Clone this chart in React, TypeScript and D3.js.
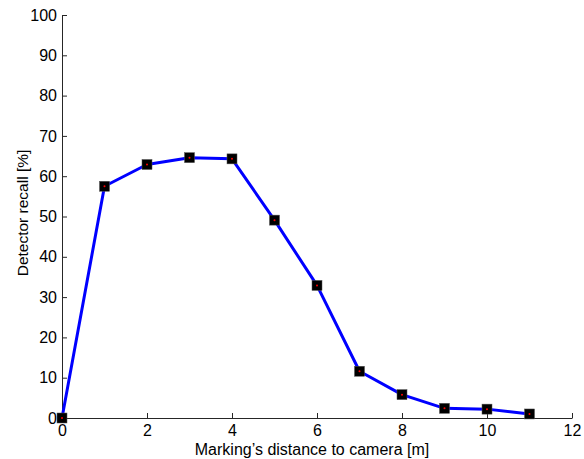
import * as d3 from 'd3';
import { useEffect, useRef } from 'react';

const distances = [0, 1, 2, 3, 4, 5, 6, 7, 8, 9, 10, 11];
const recall = [0, 57.5, 62.9, 64.6, 64.3, 49.1, 32.9, 11.6, 5.8, 2.4, 2.2, 1.0];
const xTicks = [0, 2, 4, 6, 8, 10, 12];
const yTicks = [0, 10, 20, 30, 40, 50, 60, 70, 80, 90, 100];

const width = 584;
const height = 459;
const margin = { top: 15, right: 12, bottom: 41, left: 62 };
const fontFamily = '"Liberation Sans", Arial, Helvetica, sans-serif';

const App = () => {
  const svgRef = useRef<SVGSVGElement>(null);

  useEffect(() => {
    if (!svgRef.current) return;
    const svg = d3.select(svgRef.current);
    svg.selectAll('*').remove();

    const innerWidth = width - margin.left - margin.right;
    const innerHeight = height - margin.top - margin.bottom;

    const x = d3.scaleLinear().domain([0, 12]).range([0, innerWidth]);
    const y = d3.scaleLinear().domain([0, 100]).range([innerHeight, 0]);

    const chart = svg
      .append('g')
      .attr('transform', `translate(${margin.left}, ${margin.top})`);

    const styleAxis = (group) => {
      group.select('.domain').attr('stroke', '#262626').attr('stroke-width', 1);
      group.selectAll('.tick line').attr('stroke', '#262626');
      group
        .selectAll('.tick text')
        .attr('fill', '#000')
        .style('font-size', '16px')
        .style('font-family', fontFamily);
    };

    // inward ticks, MATLAB style
    chart
      .append('g')
      .attr('transform', `translate(0, ${innerHeight})`)
      .call(d3.axisBottom(x).tickValues(xTicks).tickSizeInner(-5).tickSizeOuter(0).tickPadding(7))
      .call(styleAxis);

    chart
      .append('g')
      .call(d3.axisLeft(y).tickValues(yTicks).tickSizeInner(-5).tickSizeOuter(0).tickPadding(5))
      .call(styleAxis);

    const points = distances.map((d, i) => ({ d, v: recall[i] }));

    const line = d3
      .line<{ d: number; v: number }>()
      .x((p) => x(p.d))
      .y((p) => y(p.v));

    chart
      .append('path')
      .datum(points)
      .attr('fill', 'none')
      .attr('stroke', '#0000ff')
      .attr('stroke-width', 3)
      .attr('stroke-linejoin', 'round')
      .attr('d', line);

    chart
      .selectAll('rect.marker')
      .data(points)
      .join('rect')
      .attr('class', 'marker')
      .attr('x', (p) => x(p.d) - 5)
      .attr('y', (p) => y(p.v) - 5)
      .attr('width', 10)
      .attr('height', 10)
      .attr('fill', '#000')
      .attr('stroke', '#555')
      .attr('stroke-width', 0.5);

    chart
      .selectAll('circle.dot')
      .data(points)
      .join('circle')
      .attr('class', 'dot')
      .attr('cx', (p) => x(p.d))
      .attr('cy', (p) => y(p.v))
      .attr('r', 1)
      .attr('fill', '#ff0000');

    svg
      .append('text')
      .attr('x', 312)
      .attr('y', 455)
      .attr('text-anchor', 'middle')
      .style('font-size', '16px')
      .style('font-family', fontFamily)
      .text('Marking’s distance to camera [m]');

    svg
      .append('text')
      .attr('transform', 'translate(28, 213) rotate(-90)')
      .attr('text-anchor', 'middle')
      .style('font-size', '15.5px')
      .style('font-family', fontFamily)
      .text('Detector recall [%]');
  }, []);

  return (
    <div style={{ position: 'fixed', left: 0, top: 0, background: '#fff' }}>
      <svg ref={svgRef} width={width} height={height} />
    </div>
  );
};

export default App;
